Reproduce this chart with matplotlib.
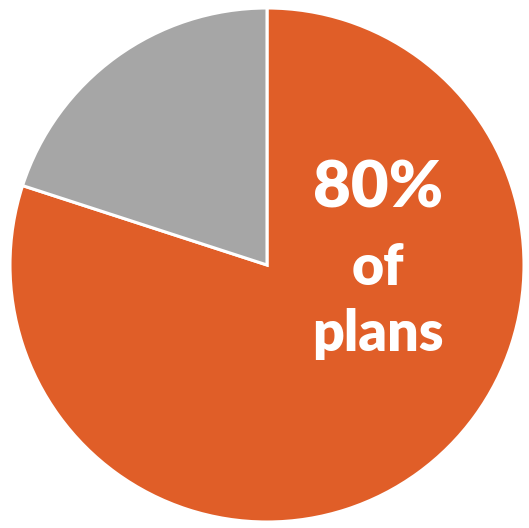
import matplotlib
matplotlib.use("Agg")
import matplotlib.pyplot as plt

labels = ["Plans", "Other"]
values = [80, 20]
colors = ["#E05E28", "#A6A6A6"]
text_lines = ["80%", "of", "plans"]

fig = plt.figure(figsize=(5.29, 5.28), dpi=100)
ax = fig.add_axes([0, 0, 1, 1])
ax.pie(values, colors=colors, startangle=90, counterclock=False,
       radius=1.0, wedgeprops=dict(edgecolor="white", linewidth=2.2))
R = 257.0
cx, cy = 267.0, 265.0
ax.set_xlim(-cx / R, (529 - cx) / R)
ax.set_ylim(-(528 - cy) / R, cy / R)
ax.set_aspect("auto")
ax.axis("off")

tx = (378 - cx) / R
baselines = [208, 285, 351]
sizes = [47, 40, 40]
for line, b, s in zip(text_lines, baselines, sizes):
    ax.text(tx, (cy - b) / R, line, ha="center", va="baseline",
            color="white", fontsize=s, fontweight="heavy",
            family=["Lato", "DejaVu Sans"])

fig.savefig("out.png", dpi=100)
